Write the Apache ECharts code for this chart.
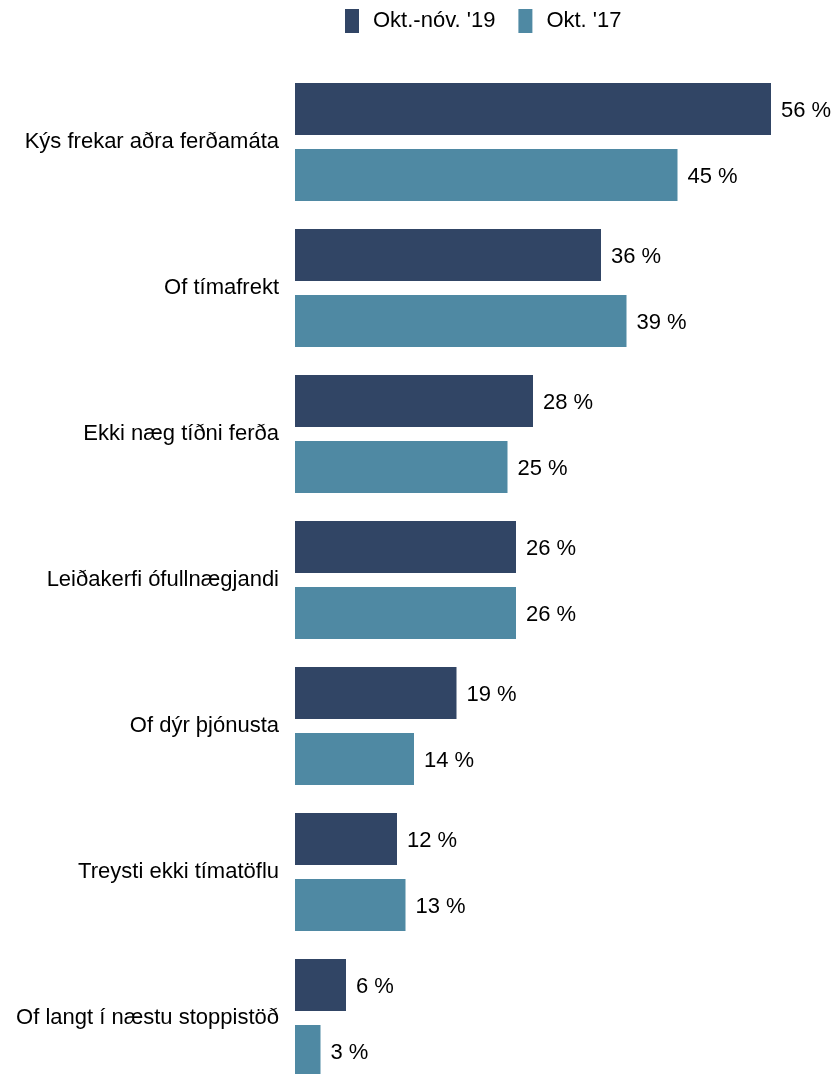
<!DOCTYPE html>
<html><head><meta charset="utf-8">
<script src="https://cdn.jsdelivr.net/npm/echarts@6/dist/echarts.min.js"></script>
<style>html,body{margin:0;padding:0;background:#fff;overflow:hidden}#c{width:836px;height:1100px}</style>
</head><body><div id="c"></div>
<script>
const categories = ["Kýs frekar aðra ferðamáta","Of tímafrekt","Ekki næg tíðni ferða","Leiðakerfi ófullnægjandi","Of dýr þjónusta","Treysti ekki tímatöflu","Of langt í næstu stoppistöð"];
const series19 = [56, 36, 28, 26, 19, 12, 6];
const series17 = [45, 39, 25, 26, 14, 13, 3];
const seriesNames = ["Okt.-nóv. '19", "Okt. '17"];
const colors = ["#314565", "#4f89a3"];
const font = "Liberation Sans, Arial, sans-serif";
const chart = echarts.init(document.getElementById('c'), null, {renderer:'canvas'});
const lbl = {show:true, position:'right', distance:10, offset:[0,2], formatter: p => p.value + ' %', fontSize:22, color:'#000', fontFamily:font};
chart.setOption({
  animation:false,
  legend:{top:4, left:340, itemWidth:14, itemHeight:24, itemGap:23, textStyle:{fontSize:22, color:'#000', fontFamily:font, padding:[0,0,0,9]}, data:seriesNames, icon:'rect'},
  grid:{left:295, width:510, top:69, height:1022, containLabel:false},
  xAxis:{type:'value', min:0, max:60, show:false},
  yAxis:{type:'category', data:categories, inverse:true, axisLine:{show:false}, axisTick:{show:false}, axisLabel:{fontSize:22, color:'#000', fontFamily:font, margin:16, padding:[4,0,0,0]}},
  series:[
    {name:seriesNames[0], type:'bar', data:series19, barWidth:52, barGap:'27%', itemStyle:{color:colors[0]}, label:lbl},
    {name:seriesNames[1], type:'bar', data:series17, barWidth:52, itemStyle:{color:colors[1]}, label:lbl}
  ]
});
</script></body></html>
